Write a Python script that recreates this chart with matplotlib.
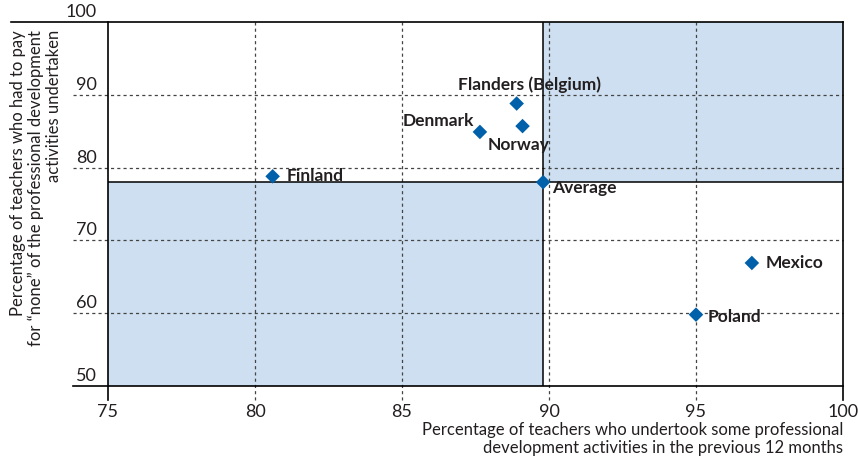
import matplotlib.pyplot as plt

plt.rcParams['font.family'] = ['Lato', 'DejaVu Sans']

countries = ['Finland', 'Denmark', 'Flanders (Belgium)', 'Norway', 'Average', 'Mexico', 'Poland']
x_vals = [80.6, 87.65, 88.9, 89.1, 89.8, 96.9, 95.0]
y_vals = [78.8, 84.9, 88.8, 85.7, 78.0, 66.9, 59.8]

x_ticks = [75, 80, 85, 90, 95, 100]
y_ticks = [50, 60, 70, 80, 90, 100]

# label offsets in pixels and alignment
label_pos = {
    'Finland': (14, 0, 'left'),
    'Denmark': (-6, 11, 'right'),
    'Flanders (Belgium)': (13, 19, 'center'),
    'Norway': (-35, -19, 'left'),
    'Average': (9, -6, 'left'),
    'Mexico': (14, 0, 'left'),
    'Poland': (12, -2, 'left'),
}

avg_x = x_vals[countries.index('Average')]
avg_y = y_vals[countries.index('Average')]

shade = '#cddff0'
blue = '#0060a9'
grid_c = '#444444'
txt_c = '#231f20'

fig = plt.figure(figsize=(8.58, 4.62), dpi=100)
ax = fig.add_axes([108 / 858, 76 / 462, 735 / 858, 364 / 462])
ax.set_xlim(75, 100)
ax.set_ylim(50, 100)

# quadrant shading
ax.fill_between([75, avg_x], 50, avg_y, color=shade, lw=0, zorder=0)
ax.fill_between([avg_x, 100], avg_y, 100, color=shade, lw=0, zorder=0)

# dashed grid, sticking out past the frame
for xv in x_ticks[1:-1]:
    ax.plot([xv, xv], [48.1, 100], ls=(0, (2.5, 2.5)), color=grid_c, lw=0.9,
            clip_on=False, zorder=1)
for yv in y_ticks[1:-1]:
    ax.plot([73.8, 100], [yv, yv], ls=(0, (2.5, 2.5)), color=grid_c, lw=0.9,
            clip_on=False, zorder=1)

# frame
for s in ax.spines.values():
    s.set_visible(False)
ax.plot([71.7, 100], [100, 100], color='black', lw=1.2, clip_on=False, zorder=2)
ax.plot([73.8, 100], [50, 50], color='black', lw=1.2, clip_on=False, zorder=2)
ax.plot([75, 75], [48.1, 100], color='black', lw=1.2, clip_on=False, zorder=2)
ax.plot([100, 100], [48.1, 100], color='black', lw=1.2, clip_on=False, zorder=2)

# average lines
ax.axvline(avg_x, color='black', lw=1.1, zorder=2)
ax.axhline(avg_y, color='black', lw=1.1, zorder=2)

ax.scatter(x_vals, y_vals, marker='D', s=55, color=blue, edgecolor='none', zorder=4)

for c, xv, yv in zip(countries, x_vals, y_vals):
    dx, dy, ha = label_pos[c]
    ax.annotate(c, (xv, yv), xytext=(dx, dy), textcoords='offset pixels',
                ha=ha, va='center', fontsize=12.5, fontweight='bold',
                color=txt_c, zorder=5)

# tick labels by hand
ax.set_xticks([])
ax.set_yticks([])
for xv in x_ticks:
    ax.annotate(str(xv), (xv, 50), xytext=(0, -18), textcoords='offset pixels',
                ha='center', va='top', fontsize=13, color=txt_c,
                annotation_clip=False)
for yv in y_ticks:
    ax.annotate(str(yv), (75, yv), xytext=(-11, 2), textcoords='offset pixels',
                ha='right', va='bottom', fontsize=13, color=txt_c,
                annotation_clip=False)

fig.text(843 / 858, 1 - 422 / 462,
         'Percentage of teachers who undertook some professional\n'
         'development activities in the previous 12 months',
         ha='right', va='top', fontsize=12, color=txt_c, linespacing=1.15)
fig.text(36 / 858, 1 - 30 / 462,
         'Percentage of teachers who had to pay\n'
         'for \u201cnone\u201d of the professional development\n'
         'activities undertaken',
         ha='center', va='top', rotation=90, multialignment='right',
         fontsize=12, color=txt_c, linespacing=1.15)

fig.savefig('out.png', dpi=100)
